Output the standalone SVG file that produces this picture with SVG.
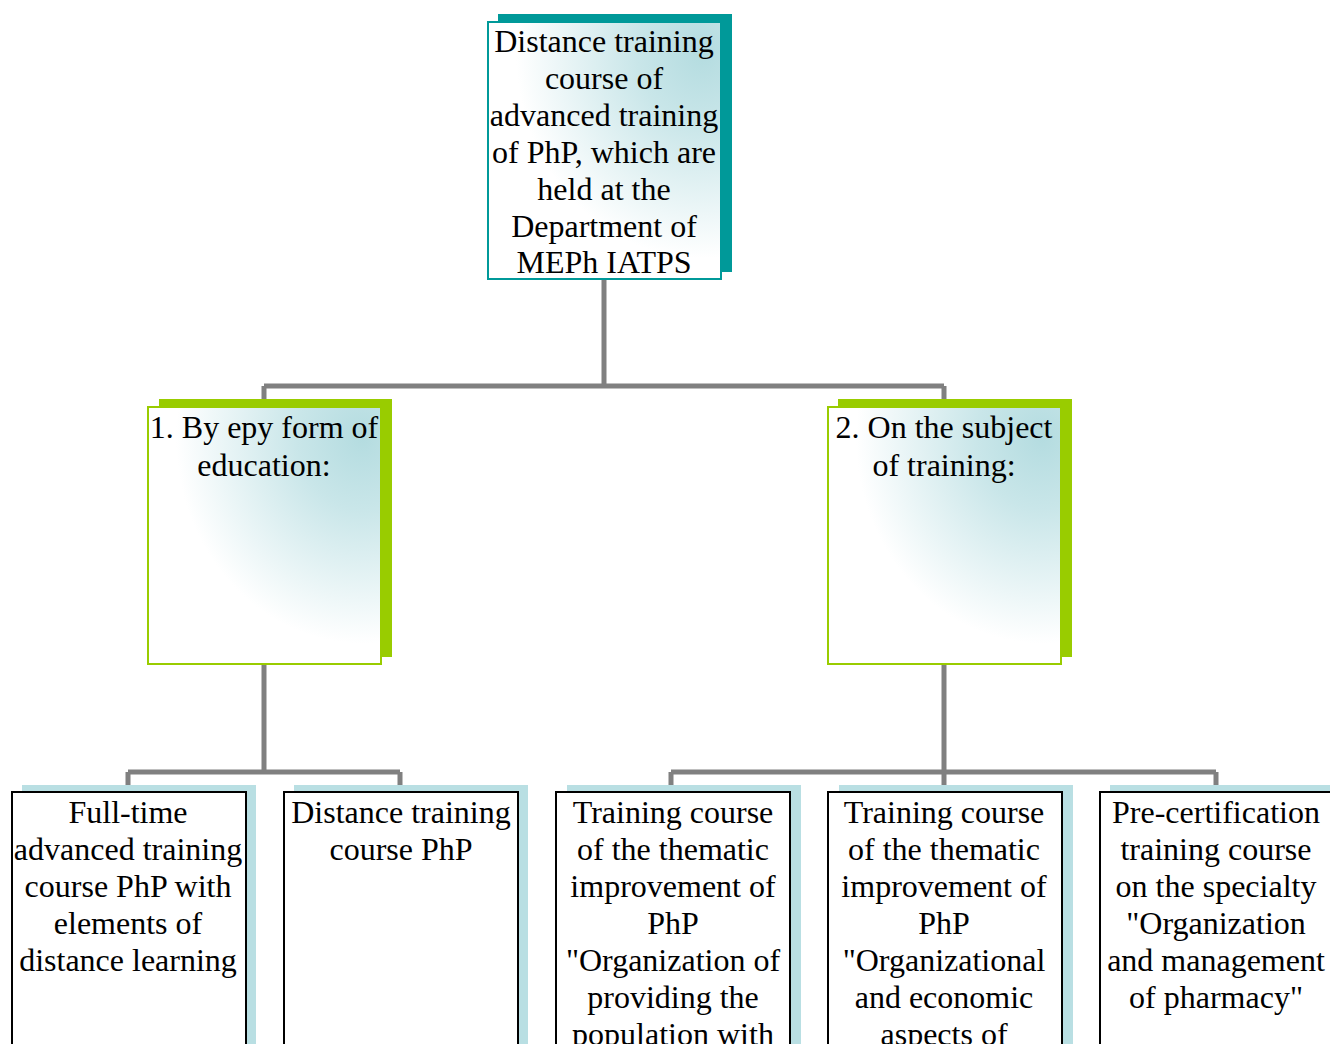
<svg xmlns="http://www.w3.org/2000/svg" width="1330" height="1044" viewBox="0 0 1330 1044">
<defs>
<radialGradient id="g" cx="0.92" cy="0.12" r="0.8">
<stop offset="0" stop-color="#b4dce0"/>
<stop offset="0.35" stop-color="#c9e6e9"/>
<stop offset="1" stop-color="#ffffff"/>
</radialGradient>
<style>
text{font-family:"Liberation Serif","Times New Roman",serif;font-size:32px;fill:#000;text-anchor:middle}
.c{fill:none;stroke:#808080;stroke-width:5}
.top-sh{fill:#009999}
.top{fill:url(#g);stroke:#009999;stroke-width:2}
.mid-sh{fill:#99cc00}
.mid{fill:url(#g);stroke:#99cc00;stroke-width:2}
.bot-sh{fill:#b9dfe3}
.bot{fill:#fff;stroke:#000;stroke-width:2}
</style>
</defs>
<rect width="1330" height="1044" fill="#fff"/>
<g id="connectors">
<path class="c" d="M604,279V386M264,386H944M264,386V407M944,386V407"/>
<path class="c" d="M264,664V772M128,772H400M128,772V792M400,772V792"/>
<path class="c" d="M944,664V772M671,772H1216M671,772V792M944,772V792M1216,772V792"/>
</g>
<g id="root">
<rect class="top-sh" x="498" y="14" width="234" height="258"/>
<rect class="top" x="488" y="22" width="233" height="257"/>
<text x="604" y="52">Distance training</text>
<text x="604" y="89">course of</text>
<text x="604" y="126">advanced training</text>
<text x="604" y="163">of PhP, which are</text>
<text x="604" y="200">held at the</text>
<text x="604" y="237">Department of</text>
<text x="604" y="273">MEPh IATPS</text>
</g>
<g id="form">
<rect class="mid-sh" x="159" y="399" width="233" height="258"/>
<rect class="mid" x="148" y="407" width="233" height="257"/>
<text x="264" y="438">1. By epy form of</text>
<text x="264" y="476">education:</text>
</g>
<g id="subject">
<rect class="mid-sh" x="838" y="399" width="234" height="258"/>
<rect class="mid" x="828" y="407" width="233" height="257"/>
<text x="944" y="438">2. On the subject</text>
<text x="944" y="476">of training:</text>
</g>
<g id="fulltime">
<rect class="bot-sh" x="22" y="785" width="234" height="270"/>
<rect class="bot" x="12" y="792" width="234" height="270"/>
<text x="128" y="823">Full-time</text>
<text x="128" y="860">advanced training</text>
<text x="128" y="897">course PhP with</text>
<text x="128" y="934">elements of</text>
<text x="128" y="971">distance learning</text>
</g>
<g id="distance">
<rect class="bot-sh" x="294" y="785" width="234" height="270"/>
<rect class="bot" x="284" y="792" width="234" height="270"/>
<text x="401" y="823">Distance training</text>
<text x="401" y="860">course PhP</text>
</g>
<g id="thematic1">
<rect class="bot-sh" x="567" y="785" width="234" height="270"/>
<rect class="bot" x="556" y="792" width="234" height="270"/>
<text x="673" y="823">Training course</text>
<text x="673" y="860">of the thematic</text>
<text x="673" y="897">improvement of</text>
<text x="673" y="934">PhP</text>
<text x="673" y="971">"Organization of</text>
<text x="673" y="1008">providing the</text>
<text x="673" y="1045">population with</text>
</g>
<g id="thematic2">
<rect class="bot-sh" x="839" y="785" width="234" height="270"/>
<rect class="bot" x="828" y="792" width="234" height="270"/>
<text x="944" y="823">Training course</text>
<text x="944" y="860">of the thematic</text>
<text x="944" y="897">improvement of</text>
<text x="944" y="934">PhP</text>
<text x="944" y="971">"Organizational</text>
<text x="944" y="1008">and economic</text>
<text x="944" y="1045">aspects of</text>
</g>
<g id="precert">
<rect class="bot-sh" x="1110" y="785" width="234" height="270"/>
<rect class="bot" x="1100" y="792" width="234" height="270"/>
<text x="1216" y="823">Pre-certification</text>
<text x="1216" y="860">training course</text>
<text x="1216" y="897">on the specialty</text>
<text x="1216" y="934">"Organization</text>
<text x="1216" y="971">and management</text>
<text x="1216" y="1008">of pharmacy"</text>
</g>
</svg>
